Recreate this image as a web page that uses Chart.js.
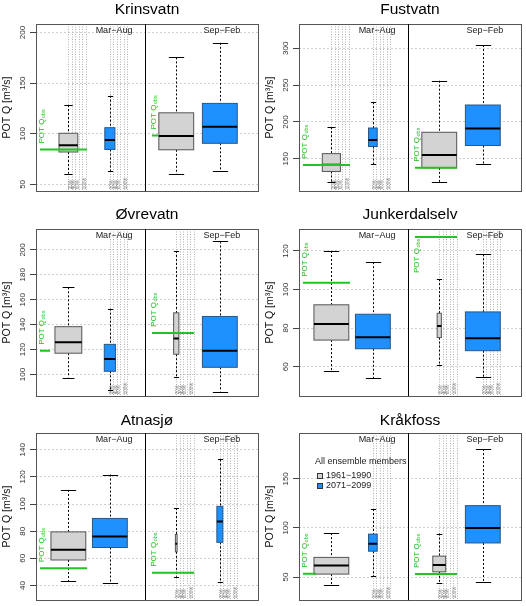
<!DOCTYPE html>
<html lang="en">
<head>
<meta charset="UTF-8">
<title>POT Q boxplots</title>
<script src="https://cdn.jsdelivr.net/npm/chart.js"></script>
<style>
  body { margin: 0; background: #fff; }
  #wrap { position: relative; width: 526px; height: 606px; }
  #wrap canvas { position: absolute; }
</style>
</head>
<body>
<div id="wrap"></div>
<script>
const stations = ['Krinsvatn', 'Fustvatn', 'Øvrevatn', 'Junkerdalselv', 'Atnasjø', 'Kråkfoss'];
const seasons = ['Mar−Aug', 'Sep−Feb'];
const periods = ['1961−1990', '2071−2099'];
const pctLabels = ['20%', '40%', '60%', '100%'];

// box order: Mar-Aug 61-90, Mar-Aug 71-99, Sep-Feb 61-90, Sep-Feb 71-99
// each box: [low whisker, Q1, median, Q3, high whisker]
const krinsvatnBoxes = [[60.6, 82, 88.7, 100.5, 128.4], [63.4, 84.5, 93.8, 106, 137.6], [60.2, 84.2, 97.7, 120.7, 175.4], [63, 90.6, 106.9, 130, 189.8]];
const fustvatnBoxes = [[118.7, 132.8, 142, 157, 193], [142.5, 166.7, 175.5, 191.8, 227], [118.7, 137.7, 155.3, 186, 256], [143.4, 168, 191, 223, 304.4]];
const ovrevatnBoxes = [[97.6, 117.1, 126, 138.4, 170], [87.4, 102.6, 112.4, 124.2, 152.9], [98.2, 116.3, 129, 149.5, 199.2], [86.3, 105.8, 119, 146.6, 206.8]];
const junkerdalselvBoxes = [[57.8, 73.8, 82.1, 92.1, 120], [54, 69.3, 75.3, 87.2, 114.2], [61, 75.1, 81.1, 87.7, 105.4], [54.7, 68.3, 74.8, 88.4, 118.3]];
const atnasjoBoxes = [[43.1, 58.8, 66.3, 79.5, 110.4], [41.9, 68, 76.1, 89.4, 121.7], [46.5, 64.8, 70.8, 77.6, 97.1], [42.9, 71.8, 87.2, 98.3, 132.8]];
const krakfossBoxes = [[42.3, 53, 61.7, 70, 94.7], [50.7, 76.3, 84, 93.7, 119.3], [43.7, 55.3, 62.3, 71.3, 94.3], [45.3, 84.7, 100, 122.7, 180.3]];

// relative box widths (1 = full width)
const krinsvatnWidths = [0.54, 0.29, 1, 1];
const fustvatnWidths = [0.52, 0.25, 1, 1];
const ovrevatnWidths = [0.77, 0.32, 0.15, 1];
const junkerdalselvWidths = [1, 1, 0.12, 1];
const atnasjoWidths = [1, 1, 0.05, 0.17];
const krakfossWidths = [1, 0.25, 0.37, 1];

// boxes that carry the width reference lines
const krinsvatnRef = [1, 1, 0, 0];
const fustvatnRef = [1, 1, 0, 0];
const ovrevatnRef = [0, 1, 1, 0];
const junkerdalselvRef = [0, 0, 1, 1];
const atnasjoRef = [0, 0, 1, 1];
const krakfossRef = [0, 1, 1, 0];

// observed POT Q per season, and where each obs line ends (x units)
const obsValues = [[84.5, 98.3], [141.6, 137.7], [119, 133.4], [103.5, 127.3], [52.8, 49.4], [53.3, 53]];
const obsEnds = [[1.45, 3.16], [1.45, 4.03], [0.56, 4.03], [1.45, 4.03], [1.45, 4.03], [0.63, 4.03]];

const yRanges = [[43.3, 208.4], [106, 333], [82.6, 216.8], [44.7, 131.4], [29.2, 152.3], [26.4, 196.7]];
const yTicks = [[50, 100, 150, 200], [150, 200, 250, 300], [100, 120, 140, 160, 180, 200], [60, 80, 100, 120], [40, 60, 80, 100, 120, 140], [50, 100, 150]];

const allBoxes = [krinsvatnBoxes, fustvatnBoxes, ovrevatnBoxes, junkerdalselvBoxes, atnasjoBoxes, krakfossBoxes];
const allWidths = [krinsvatnWidths, fustvatnWidths, ovrevatnWidths, junkerdalselvWidths, atnasjoWidths, krakfossWidths];
const allRef = [krinsvatnRef, fustvatnRef, ovrevatnRef, junkerdalselvRef, atnasjoRef, krakfossRef];

const FONT = "'Liberation Sans', Arial, Helvetica, sans-serif";
const BOX_X = [1, 2, 3.6, 4.65];
const FULL_W = 0.84;
const OBS_START = [0.316, 3.015];
const DIVIDER = 2.85;
const GREEN = '#22c322';
const FILLS = ['#d3d3d3', '#1e90ff'];
const EDGES = ['#555555', '#2a5684'];

function txt(ctx, s, x, y, size, color, align, base) {
  ctx.font = size + 'px ' + FONT;
  ctx.fillStyle = color;
  ctx.textAlign = align || 'center';
  ctx.textBaseline = base || 'middle';
  ctx.fillText(s, x, y);
}

const boxPlugin = {
  id: 'boxes',
  beforeDatasetsDraw(chart, args, o) {
    const {ctx, chartArea: a, scales: {x, y}} = chart;
    ctx.save();
    ctx.beginPath();
    ctx.rect(a.left, a.top, a.width, a.height);
    ctx.clip();

    // width reference lines
    o.boxes.forEach((b, i) => {
      if (!o.ref[i]) return;
      ctx.strokeStyle = '#a0a0a0';
      ctx.lineWidth = 0.8;
      ctx.setLineDash([1, 1.5]);
      for (let k = 0; k <= 5; k++) {
        const px = Math.round(x.getPixelForValue(BOX_X[i] + k * 0.1 * FULL_W)) + 0.5;
        ctx.beginPath();
        ctx.moveTo(px, a.top);
        ctx.lineTo(px, a.bottom);
        ctx.stroke();
      }
      ctx.setLineDash([]);
      [1, 2, 3, 5].forEach((k, j) => {
        const px = x.getPixelForValue(BOX_X[i] + k * 0.1 * FULL_W) - 1.5;
        ctx.save();
        ctx.translate(px, a.bottom - 2);
        ctx.rotate(-Math.PI / 2);
        txt(ctx, pctLabels[j], 0, 0, 4.5, '#777', 'left', 'middle');
        ctx.restore();
      });
    });

    // boxes
    o.boxes.forEach((b, i) => {
      const [lo, q1, med, q3, hi] = b;
      const hw = o.widths[i] * FULL_W / 2;
      const x0 = x.getPixelForValue(BOX_X[i] - hw);
      const x1 = x.getPixelForValue(BOX_X[i] + hw);
      const xc = Math.round(x.getPixelForValue(BOX_X[i])) + 0.5;
      const cap = Math.max((x1 - x0) * 0.22, 2.6);
      ctx.strokeStyle = '#000';
      ctx.lineWidth = 1;
      ctx.setLineDash([2, 2]);
      ctx.beginPath();
      ctx.moveTo(xc, y.getPixelForValue(hi));
      ctx.lineTo(xc, y.getPixelForValue(q3));
      ctx.moveTo(xc, y.getPixelForValue(q1));
      ctx.lineTo(xc, y.getPixelForValue(lo));
      ctx.stroke();
      ctx.setLineDash([]);
      ctx.beginPath();
      [hi, lo].forEach(v => {
        const py = Math.round(y.getPixelForValue(v)) + 0.5;
        ctx.moveTo(xc - cap, py);
        ctx.lineTo(xc + cap, py);
      });
      ctx.stroke();
      const yt = y.getPixelForValue(q3), yb = y.getPixelForValue(q1);
      ctx.fillStyle = FILLS[i % 2];
      ctx.fillRect(x0, yt, x1 - x0, yb - yt);
      ctx.strokeStyle = EDGES[i % 2];
      ctx.strokeRect(x0, yt, x1 - x0, yb - yt);
      ctx.strokeStyle = '#000';
      ctx.lineWidth = 2;
      ctx.beginPath();
      const ym = y.getPixelForValue(med);
      ctx.moveTo(x0, ym);
      ctx.lineTo(x1, ym);
      ctx.stroke();
    });
    ctx.restore();
  },
  afterDatasetsDraw(chart, args, o) {
    const {ctx, chartArea: a, scales: {x, y}} = chart;
    ctx.save();
    // POT Q obs labels
    o.obs.forEach((v, s) => {
      const px = x.getPixelForValue(OBS_START[s]) + 2;
      const py = Math.max(y.getPixelForValue(v) - 6, a.top + 44);
      ctx.save();
      ctx.translate(px, py);
      ctx.rotate(-Math.PI / 2);
      txt(ctx, 'POT Q', 0, 0, 8, GREEN, 'left', 'middle');
      const w = ctx.measureText('POT Q').width;
      txt(ctx, 'obs', w + 0.5, 2, 5.5, GREEN, 'left', 'middle');
      ctx.restore();
    });
    // frame and season divider
    ctx.strokeStyle = '#555';
    ctx.lineWidth = 1;
    ctx.strokeRect(Math.round(a.left) + 0.5, Math.round(a.top) + 0.5, Math.round(a.width), Math.round(a.height));
    const dx = Math.round(x.getPixelForValue(DIVIDER)) + 0.5;
    ctx.strokeStyle = '#000';
    ctx.beginPath();
    ctx.moveTo(dx, a.top);
    ctx.lineTo(dx, a.bottom);
    ctx.stroke();
    txt(ctx, seasons[0], x.getPixelForValue(2.1), a.top + 7, 9, '#222');
    txt(ctx, seasons[1], x.getPixelForValue(4.7), a.top + 7, 9, '#222');

    if (o.legend) {
      txt(ctx, 'All ensemble members', a.left + 16, a.top + 29, 9, '#222', 'left');
      periods.forEach((p, i) => {
        const ly = a.top + 43 + i * 10;
        ctx.fillStyle = FILLS[i];
        ctx.fillRect(a.left + 18, ly - 2.5, 5, 5);
        ctx.strokeStyle = '#333';
        ctx.strokeRect(a.left + 18.5, ly - 2.5, 5, 5);
        txt(ctx, p, a.left + 27, ly, 9, '#222', 'left');
      });
    }
    ctx.restore();
  }
};

const wrap = document.getElementById('wrap');
const rowTop = [0, 205, 409];
const rowPadBottom = [1, 3, 3];
const titlePad = [[0.7, 4.7], [0, 5.4], [2.4, 3]];

stations.forEach((name, i) => {
  const col = i % 2, row = Math.floor(i / 2);
  const cv = document.createElement('canvas');
  cv.width = 263;
  cv.height = 197;
  cv.style.left = (col * 263) + 'px';
  cv.style.top = rowTop[row] + 'px';
  wrap.appendChild(cv);

  const obsSets = obsValues[i].map((v, s) => ({
    data: [{x: OBS_START[s], y: v}, {x: obsEnds[i][s], y: v}],
    showLine: true,
    borderColor: GREEN,
    borderWidth: 2,
    pointRadius: 0
  }));

  new Chart(cv, {
    type: 'scatter',
    data: { datasets: obsSets },
    plugins: [boxPlugin],
    options: {
      responsive: false,
      animation: false,
      devicePixelRatio: 1,
      layout: { padding: { left: 0, right: 5, top: 0, bottom: rowPadBottom[row] } },
      plugins: {
        legend: { display: false },
        tooltip: { enabled: false },
        title: {
          display: true,
          text: name,
          fullSize: false,
          color: '#000',
          font: { family: FONT, size: 15.5, weight: 'normal' },
          padding: { top: titlePad[row][0], bottom: titlePad[row][1] }
        },
        boxes: {
          boxes: allBoxes[i],
          widths: allWidths[i],
          ref: allRef[i],
          obs: obsValues[i],
          legend: i === 5
        }
      },
      scales: {
        x: { type: 'linear', min: 0.22, max: 5.57, display: false },
        y: {
          min: yRanges[i][0],
          max: yRanges[i][1],
          afterBuildTicks: s => { s.ticks = yTicks[i].map(v => ({ value: v })); },
          afterFit: s => { s.width = 36; },
          grid: { color: '#d0d0d0', lineWidth: 1, tickLength: 6, tickColor: '#444', tickBorderDash: [], tickWidth: 1 },
          border: { display: false, dash: [2, 2] },
          ticks: {
            minRotation: 90, maxRotation: 90, crossAlign: 'center', padding: 1,
            color: '#333', font: { family: FONT, size: 8 }
          },
          title: {
            display: true, text: 'POT Q [m³/s]', color: '#111',
            font: { family: FONT, size: 10.5 }, padding: { top: 1, bottom: 0 }
          }
        }
      }
    }
  });
});
</script>
</body>
</html>
